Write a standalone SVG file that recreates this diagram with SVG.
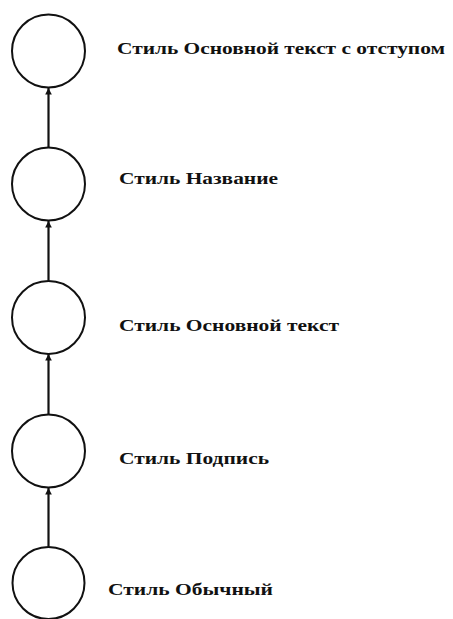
<svg xmlns="http://www.w3.org/2000/svg" width="453" height="619" viewBox="0 0 453 619">
<style>
.node circle{fill:#fff;stroke:#111;stroke-width:2}
.node text{font-family:"Liberation Serif","Times New Roman",serif;font-weight:bold;font-size:16px;fill:#111}
.edge{stroke:#111;stroke-width:2.2;fill:none;marker-end:url(#arr)}
</style>
<defs>
<marker id="arr" viewBox="0 0 8 8" refX="8" refY="4" markerWidth="3" markerHeight="3" orient="auto" markerUnits="strokeWidth">
<path d="M0,0 L8,4 L0,8 Z" fill="#111"/>
</marker>
</defs>
<rect width="453" height="619" fill="#fff"/>
<g id="connectors">
<line class="edge" x1="48.5" y1="147.5" x2="48.5" y2="88"/>
<line class="edge" x1="48.5" y1="280.5" x2="48.5" y2="221"/>
<line class="edge" x1="48.5" y1="414.5" x2="48.5" y2="354"/>
<line class="edge" x1="48.5" y1="546.5" x2="48.5" y2="488"/>
</g>
<g id="node1" class="node">
<circle cx="48.5" cy="51" r="36.5"/>
<text x="117" y="54" textLength="328" lengthAdjust="spacingAndGlyphs">Стиль Основной текст с отступом</text>
</g>
<g id="node2" class="node">
<circle cx="48.5" cy="184" r="36.5"/>
<text x="119" y="184" textLength="159" lengthAdjust="spacingAndGlyphs">Стиль Название</text>
</g>
<g id="node3" class="node">
<circle cx="48.5" cy="317.5" r="36.5"/>
<text x="119" y="331" textLength="220" lengthAdjust="spacingAndGlyphs">Стиль Основной текст</text>
</g>
<g id="node4" class="node">
<circle cx="48.5" cy="451" r="36.5"/>
<text x="119" y="464" textLength="150" lengthAdjust="spacingAndGlyphs">Стиль Подпись</text>
</g>
<g id="node5" class="node">
<circle cx="48.5" cy="583" r="36"/>
<text x="108" y="595" textLength="165" lengthAdjust="spacingAndGlyphs">Стиль Обычный</text>
</g>
</svg>
